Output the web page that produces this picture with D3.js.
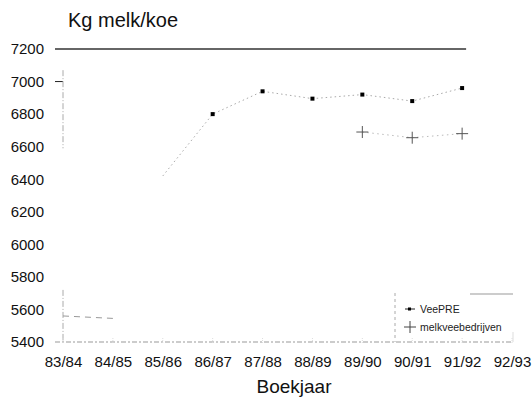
<!DOCTYPE html>
<html><head><meta charset="utf-8">
<script src="https://cdn.jsdelivr.net/npm/d3@7"></script>
<style>
html,body{margin:0;padding:0;background:#fff;}
svg{display:block;font-family:"Liberation Sans",Arial,Helvetica,sans-serif;}
</style></head>
<body>
<svg id="c" width="532" height="401"></svg>
<script>
const categories = ["83/84","84/85","85/86","86/87","87/88","88/89","89/90","90/91","91/92","92/93"];
const yTicks = [5400,5600,5800,6000,6200,6400,6600,6800,7000,7200];
const veePRE = [null, null, 6420, 6800, 6940, 6895, 6920, 6880, 6960, null];
const melkveebedrijven = [5560, 5545, null, null, null, null, 6690, 6655, 6680, null];
const firstMarked = {veePRE: 3, melkvee: 6};
const seriesNames = ["VeePRE", "melkveebedrijven"];

const svg = d3.select("#c");
const x = d3.scalePoint().domain(categories).range([63, 512]).padding(0);
const y = d3.scaleLinear().domain([5400, 7200]).range([342, 49]);

// title
svg.append("text").attr("x", 68).attr("y", 27).attr("font-size", 20).attr("fill", "#111").text("Kg melk/koe");
svg.append("text").attr("x", 294).attr("y", 393).attr("text-anchor", "middle").attr("font-size", 19).attr("fill", "#111").text("Boekjaar");

// y axis labels
const yAxis = d3.axisLeft(y).tickValues(yTicks).tickSize(0).tickPadding(0).tickFormat(d3.format("d"));
const ga = svg.append("g").attr("transform", "translate(44,0)").call(yAxis);
ga.select(".domain").remove();
ga.selectAll("text").attr("font-size", 15).attr("fill", "#111").attr("font-family", "Liberation Sans, Arial, sans-serif");

// x axis labels
const xAxis = d3.axisBottom(x).tickSize(0).tickPadding(0);
const gx = svg.append("g").attr("transform", "translate(0,356)").call(xAxis);
gx.select(".domain").remove();
gx.selectAll("text").attr("font-size", 15).attr("fill", "#111").attr("font-family", "Liberation Sans, Arial, sans-serif");

// top frame line at 7200
svg.append("line").attr("x1", 55).attr("x2", x("91/92") + 4).attr("y1", y(7200)).attr("y2", y(7200))
  .attr("stroke", "#333").attr("stroke-width", 1.4);
// 7000 tick
svg.append("line").attr("x1", 55).attr("x2", x(categories[0])).attr("y1", y(7000)).attr("y2", y(7000))
  .attr("stroke", "#222").attr("stroke-width", 1);
// faded y axis pieces
[[7070, 6590], [5720, 5400]].forEach(([a, b]) => {
  svg.append("line").attr("x1", x(categories[0])).attr("x2", x(categories[0])).attr("y1", y(a)).attr("y2", y(b))
    .attr("stroke", "#aaa").attr("stroke-width", 1).attr("stroke-dasharray", "6,2,1,2");
});
// x axis line (faded)
svg.append("line").attr("x1", 55).attr("x2", 513).attr("y1", y(5400)).attr("y2", y(5400))
  .attr("stroke", "#999").attr("stroke-width", 1).attr("stroke-dasharray", "5,2,2,2");
// x ticks faint
categories.forEach(c => {
  svg.append("line").attr("x1", x(c)).attr("x2", x(c)).attr("y1", y(5400) - 4).attr("y2", y(5400) + 2)
    .attr("stroke", "#ddd").attr("stroke-width", 1).attr("stroke-dasharray", "1,1");
});

const line = d3.line().defined(d => d.v != null).x(d => x(d.c)).y(d => y(d.v));
const vData = categories.map((c, i) => ({c, v: veePRE[i], i}));
const mData = categories.map((c, i) => ({c, v: melkveebedrijven[i], i}));

svg.append("path").attr("d", line(vData)).attr("fill", "none").attr("stroke", "#aaa")
  .attr("stroke-width", 1).attr("stroke-dasharray", "1.5,3");
// early part of melkvee: dashed
svg.append("path").attr("d", line(mData.filter(d => d.i < 2))).attr("fill", "none").attr("stroke", "#999")
  .attr("stroke-width", 1).attr("stroke-dasharray", "6,5");
svg.append("path").attr("d", line(mData.filter(d => d.i >= 6))).attr("fill", "none").attr("stroke", "#bbb")
  .attr("stroke-width", 1).attr("stroke-dasharray", "1.5,3.5");

// markers
svg.selectAll(".sq").data(vData.filter(d => d.v != null && d.i >= firstMarked.veePRE)).enter()
  .append("rect").attr("x", d => x(d.c) - 2).attr("y", d => y(d.v) - 2).attr("width", 4).attr("height", 4).attr("fill", "#000");
const plus = svg.selectAll(".pl").data(mData.filter(d => d.v != null && d.i >= firstMarked.melkvee)).enter().append("g")
  .attr("transform", d => `translate(${x(d.c)},${y(d.v)})`);
plus.append("line").attr("x1", -6).attr("x2", 6).attr("stroke", "#555").attr("stroke-width", 1);
plus.append("line").attr("y1", -6).attr("y2", 6).attr("stroke", "#555").attr("stroke-width", 1);

// legend
const lg = svg.append("g");
lg.append("line").attr("x1", 395).attr("x2", 395).attr("y1", 293).attr("y2", 342)
  .attr("stroke", "#aaa").attr("stroke-dasharray", "3,3");
lg.append("line").attr("x1", 470).attr("x2", 513).attr("y1", 294).attr("y2", 294).attr("stroke", "#999");
lg.append("line").attr("x1", 513).attr("x2", 513).attr("y1", 332).attr("y2", 342).attr("stroke", "#ddd");
lg.append("line").attr("x1", 405).attr("x2", 415).attr("y1", 309).attr("y2", 309).attr("stroke", "#222");
lg.append("rect").attr("x", 408).attr("y", 307.5).attr("width", 3).attr("height", 3).attr("fill", "#000");
lg.append("line").attr("x1", 404).attr("x2", 416).attr("y1", 327).attr("y2", 327).attr("stroke", "#444");
lg.append("line").attr("x1", 410).attr("x2", 410).attr("y1", 321).attr("y2", 333).attr("stroke", "#444");
seriesNames.forEach((n, i) => {
  lg.append("text").attr("x", 420).attr("y", 313 + i * 18).attr("font-size", 10.5).attr("fill", "#222").text(n);
});
</script>
</body></html>
